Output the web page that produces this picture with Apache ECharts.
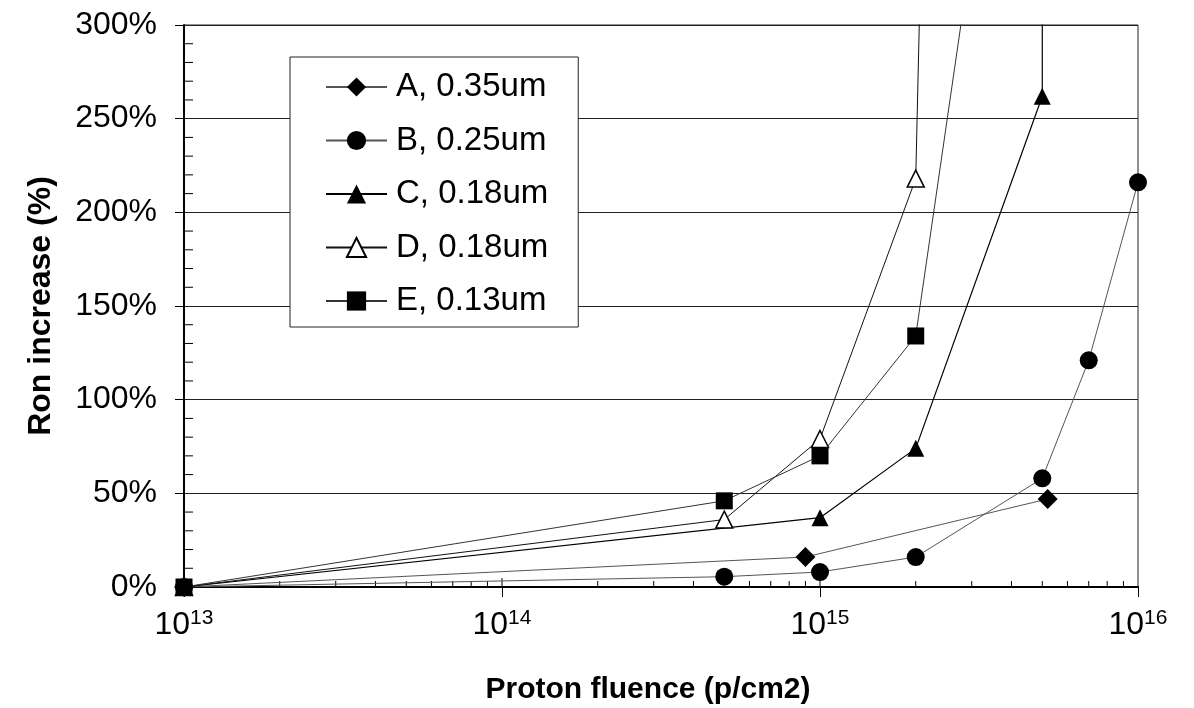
<!DOCTYPE html>
<html>
<head>
<meta charset="utf-8">
<script src="https://cdn.jsdelivr.net/npm/echarts@6/dist/echarts.min.js"></script>
<style>
html,body{margin:0;padding:0;background:#fff;}
#chart{width:1194px;height:708px;}
</style>
</head>
<body>
<div id="chart"></div>
<script>
// ---- data ----
const seriesNames = ['A, 0.35um', 'B, 0.25um', 'C, 0.18um', 'D, 0.18um', 'E, 0.13um'];
const aFluence = [1e13, 9e14, 5.2e15];
const aIncrease = [0, 16, 47];
const bFluence = [1e13, 5e14, 1e15, 2e15, 5e15, 7e15, 1e16];
const bIncrease = [0, 5.5, 8, 16, 58, 121, 216];
const cFluence = [1e13, 1e15, 2e15, 5e15, 5e15];
const cIncrease = [0, 37, 74, 262, 500];
const dFluence = [1e13, 5e14, 1e15, 2e15, 2.15e15];
const dIncrease = [0, 36, 79, 218, 450];
const eFluence = [1e13, 5e14, 1e15, 2e15, 3e15];
const eIncrease = [0, 46, 70, 134, 340];
const yTicks = [0, 50, 100, 150, 200, 250, 300];
const xMinorTicks = [2e13,3e13,4e13,5e13,6e13,7e13,8e13,9e13,1e14,
                     2e14,3e14,4e14,5e14,6e14,7e14,8e14,9e14,1e15,
                     2e15,3e15,4e15,5e15,6e15,7e15,8e15,9e15];
const yMinorTicks = [10,20,30,40,60,70,80,90,110,120,130,140,160,170,180,190,210,220,230,240,260,270,280,290];

const FONT = '"Liberation Sans", Arial, sans-serif';
const Y_MAX = yTicks[yTicks.length - 1];

function pts(xs, ys) {
  return xs.map((x, i) => ys[i] > Y_MAX ? { value: [x, ys[i]], symbol: 'none' } : [x, ys[i]]);
}

function lineSeries(name, xs, ys, symbol, size, lineColor, lineWidth, fill, z) {
  return {
    name: name,
    type: 'line',
    data: pts(xs, ys),
    symbol: symbol,
    symbolSize: size,
    showAllSymbol: true,
    clip: true,
    z: z,
    lineStyle: { color: lineColor, width: lineWidth },
    itemStyle: fill === 'open'
      ? { color: '#fff', borderColor: '#000', borderWidth: 1.5 }
      : { color: '#000', borderWidth: 0 },
    emphasis: { disabled: true },
    animation: false
  };
}

const chart = echarts.init(document.getElementById('chart'), null, { renderer: 'canvas' });

const option = {
  backgroundColor: '#fff',
  animation: false,
  textStyle: { fontFamily: FONT, color: '#000' },
  grid: {
    left: 184, right: 56, top: 25, bottom: 121,
    outerBoundsMode: 'none',
    containLabel: false,
    show: true, borderColor: '#222', borderWidth: 1, backgroundColor: 'transparent'
  },
  legend: {
    data: seriesNames,
    orient: 'vertical',
    left: 290, top: 57,
    padding: [13, 30, 9, 35],
    itemGap: 19.5,
    itemWidth: 61,
    itemHeight: 24,
    backgroundColor: '#fff',
    borderColor: '#222',
    borderWidth: 1,
    borderRadius: 0,
    selectedMode: false,
    textStyle: { fontSize: 33, fontFamily: FONT, color: '#000', lineHeight: 34, padding: [0, 0, 0, 4] }
  },
  xAxis: {
    type: 'log',
    logBase: 10,
    min: 1e13,
    max: 1e16,
    name: 'Proton fluence (p/cm2)',
    nameLocation: 'middle',
    nameGap: 88,
    nameTextStyle: { fontSize: 30, fontWeight: 'bold', fontFamily: FONT, color: '#000', padding: [0, 26, 0, 0] },
    axisLine: { show: true, onZero: false, lineStyle: { color: '#000', width: 2 } },
    axisTick: { show: true, inside: false, length: 10, lineStyle: { color: '#000', width: 1 } },
    minorTick: { show: false },
    splitLine: { show: false },
    axisLabel: {
      margin: 21,
      formatter: function (v) {
        return '{b|10}{s|' + Math.round(Math.log10(v)) + '}';
      },
      rich: {
        b: { fontSize: 32, fontFamily: FONT, color: '#000', lineHeight: 34 },
        s: { fontSize: 21, fontFamily: FONT, color: '#000', verticalAlign: 'top', lineHeight: 24 }
      }
    }
  },
  yAxis: {
    type: 'value',
    min: yTicks[0],
    max: Y_MAX,
    interval: 50,
    name: 'Ron increase (%)',
    nameLocation: 'middle',
    nameGap: 127,
    nameTextStyle: { fontSize: 32, fontWeight: 'bold', fontFamily: FONT, color: '#000' },
    axisLine: { show: true, lineStyle: { color: '#000', width: 2 } },
    axisTick: { show: true, inside: false, length: 9, lineStyle: { color: '#000', width: 1 } },
    minorTick: { show: false },
    splitLine: { show: true, lineStyle: { color: '#222', width: 1 } },
    axisLabel: { margin: 27, fontSize: 32, fontFamily: FONT, color: '#000', formatter: '{value}%' }
  },
  series: [
    {
      type: 'custom',
      name: 'xminor',
      silent: true,
      clip: false,
      z: 1,
      data: xMinorTicks.map(v => [v, 0]),
      encode: { x: 0, y: 1 },
      renderItem: function (params, api) {
        const p = api.coord([api.value(0), api.value(1)]);
        const v = api.value(0);
        const major = Math.abs(Math.log10(v) - Math.round(Math.log10(v))) < 1e-6;
        const len = major ? 9 : 6;
        return { type: 'line', shape: { x1: p[0], y1: p[1], x2: p[0], y2: p[1] - len },
                 style: { stroke: '#000', lineWidth: 1 } };
      }
    },
    {
      type: 'custom',
      name: 'yminor',
      silent: true,
      clip: false,
      z: 1,
      data: yMinorTicks.map(v => [1e13, v]),
      encode: { x: 0, y: 1 },
      renderItem: function (params, api) {
        const p = api.coord([api.value(0), api.value(1)]);
        return { type: 'line', shape: { x1: p[0], y1: p[1], x2: p[0] + 9, y2: p[1] },
                 style: { stroke: '#000', lineWidth: 1 } };
      }
    },
    lineSeries(seriesNames[0], aFluence, aIncrease, 'diamond', 20, '#555', 1, 'solid', 3),
    lineSeries(seriesNames[1], bFluence, bIncrease, 'circle', 18, '#555', 1, 'solid', 4),
    lineSeries(seriesNames[2], cFluence, cIncrease, 'triangle', 17, '#000', 1.2, 'solid', 5),
    lineSeries(seriesNames[3], dFluence, dIncrease, 'triangle', 17, '#111', 1, 'open', 6),
    lineSeries(seriesNames[4], eFluence, eIncrease, 'rect', 17, '#333', 1, 'solid', 7)
  ]
};

chart.setOption(option);
</script>
</body>
</html>
